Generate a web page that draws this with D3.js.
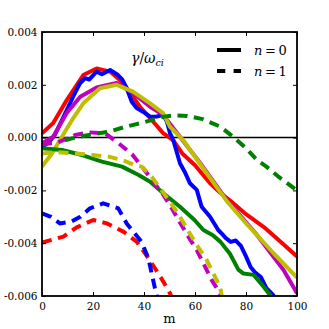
<!DOCTYPE html>
<html>
<head>
<meta charset="utf-8">
<script src="https://cdn.jsdelivr.net/npm/d3@7.9.0/dist/d3.min.js"></script>
<style>
  body { margin: 0; background: #fff; }
  svg { display: block; font-family: "DejaVu Serif", serif; }
  .tick text { font-size: 10.5px; fill: #000; font-family: "DejaVu Serif", serif; }
</style>
</head>
<body>
<svg width="329" height="329"></svg>
<script>
// growth rate gamma/omega_ci vs m, n=0 (solid) and n=1 (dashed)
const xTicks = [0, 20, 40, 60, 80, 100];
const yTicks = [-0.006, -0.004, -0.002, 0, 0.002, 0.004];

const redM = [0, 4.4, 9.7, 16.2, 21.4, 26.7, 31.8, 38.4, 42, 47.5, 51.4, 55, 60, 65.9, 70, 74, 80, 87, 93, 100];
const redV = [0.00016, 0.00055, 0.00142, 0.00237, 0.00262, 0.0025, 0.00207, 0.00117, 0.00078, 0.00017, -0.0001, -0.0006, -0.00105, -0.00173, -0.0021, -0.0024, -0.0029, -0.00339, -0.0039, -0.0045];

const blueM = [0, 2.5, 5, 7.5, 10, 12.2, 14.9, 16.9, 18.5, 21.4, 23.5, 26.7, 29.8, 31.5, 33.2, 35.2, 37.1, 39.6, 42.4, 45, 47.5, 49, 50.2, 51.5, 54.1, 56, 58, 60.7, 62.6, 65.9, 69.1, 70.6, 72, 74, 76, 78, 80, 81.8, 83.5, 85.8, 88, 91];
const blueV = [-0.00034, -0.0002, 0.0001, 0.0006, 0.0011, 0.00155, 0.00206, 0.00225, 0.0022, 0.0025, 0.0024, 0.00256, 0.00237, 0.0022, 0.00187, 0.00136, 0.00112, 0.00098, 0.00079, 0.0008, 0.00086, 0.0006, 0.00017, -0.0001, -0.00097, -0.0013, -0.00173, -0.00198, -0.00262, -0.003, -0.0035, -0.00365, -0.0038, -0.00395, -0.0039, -0.0041, -0.0045, -0.0049, -0.0051, -0.00528, -0.0057, -0.006];

const magM = [0, 4.4, 9.7, 15, 21.4, 29.3, 35.7, 42.4, 47.5, 49, 54.1, 62, 72.4, 84, 94.9, 100];
const magV = [-0.00022, 0.00003, 0.00093, 0.00155, 0.0019, 0.00207, 0.00169, 0.00117, 0.00086, 0.00067, 0.00003, -0.00096, -0.00236, -0.00365, -0.00504, -0.0059];

const yelM = [0, 3.9, 7.8, 11.8, 16.2, 22.7, 29.3, 35.7, 42.4, 47.5, 50.2, 55.4, 63.5, 72.4, 80.5, 91, 100];
const yelV = [-0.0011, -0.0006, 0.00003, 0.00067, 0.0013, 0.00187, 0.002, 0.00174, 0.0013, 0.00093, 0.00041, -0.0001, -0.0012, -0.0024, -0.0033, -0.0044, -0.0053];

const grnM = [0, 7.8, 15.7, 23.5, 31.4, 37.9, 42.4, 47.6, 54.1, 59.8, 63.3, 67, 70, 73.7, 77, 79, 83, 87, 89.7, 92];
const grnV = [-0.0004, -0.00047, -0.00066, -0.00091, -0.0011, -0.00142, -0.00167, -0.00211, -0.00262, -0.00312, -0.0035, -0.0037, -0.00395, -0.0044, -0.005, -0.00515, -0.0052, -0.00566, -0.006, -0.0063];

const redDashM = [0, 8.4, 13.6, 20.1, 25.4, 31.9, 37.1, 40.4, 44.3, 47.6, 50.2, 51.5];
const redDashV = [-0.00398, -0.00375, -0.0034, -0.00312, -0.00325, -0.00356, -0.00394, -0.00438, -0.00495, -0.00546, -0.0059, -0.0062];

const blueDashM = [0, 3.5, 7, 11.6, 15, 18.8, 24, 29.9, 33.2, 35.8, 39, 41.7, 43, 44.3, 45.5];
const blueDashV = [-0.00287, -0.003, -0.00325, -0.00318, -0.003, -0.00268, -0.00249, -0.00268, -0.00325, -0.00356, -0.00394, -0.00457, -0.00514, -0.00571, -0.0062];

const magDashM = [0, 5.8, 13.1, 18.3, 24.8, 30.1, 35.3, 39.7, 43.6, 47.6, 50.9, 54.1, 57.4, 60.7, 63.3, 66.5, 69.8, 70.8];
const magDashV = [-0.00025, -0.0002, 0.0001, 0.0002, 0.00016, -0.00022, -0.00063, -0.00116, -0.00167, -0.00217, -0.00268, -0.00322, -0.00375, -0.00426, -0.00476, -0.00539, -0.0059, -0.0062];

const yelDashM = [0, 6, 13.1, 19.6, 26.1, 31.4, 36.5, 39.1, 43, 46.3, 50.2, 54.1, 57.4, 60.7, 64.6, 67.2, 69.8, 71];
const yelDashV = [-0.0006, -0.00055, -0.0006, -0.00066, -0.00072, -0.00085, -0.00104, -0.0011, -0.00148, -0.00192, -0.00243, -0.003, -0.00354, -0.00407, -0.00464, -0.00514, -0.00565, -0.0062];

const grnDashM = [9, 11.8, 18.3, 26.1, 32.7, 39.2, 47.5, 52, 56.9, 63, 70, 75.3, 80, 84.3, 88, 93, 100];
const grnDashV = [-0.0001, -0.00003, 0.0001, 0.00022, 0.00041, 0.00056, 0.00079, 0.00084, 0.00082, 0.0007, 0.00041, 0.0, -0.0004, -0.00085, -0.0011, -0.0015, -0.002];

const series = [
  { m: redM, v: redV, color: '#ff0000', dash: false },
  { m: blueM, v: blueV, color: '#0000ff', dash: false },
  { m: magM, v: magV, color: '#bf00bf', dash: false },
  { m: yelM, v: yelV, color: '#bfbf00', dash: false },
  { m: grnM, v: grnV, color: '#008000', dash: false },
  { m: redDashM, v: redDashV, color: '#ff0000', dash: true },
  { m: blueDashM, v: blueDashV, color: '#0000ff', dash: true },
  { m: magDashM, v: magDashV, color: '#bf00bf', dash: true },
  { m: yelDashM, v: yelDashV, color: '#bfbf00', dash: true },
  { m: grnDashM, v: grnDashV, color: '#008000', dash: true },
];

const pLeft = 42, pRight = 297, pTop = 32, pBottom = 296;
const x = d3.scaleLinear().domain([0, 100]).range([pLeft, pRight]);
const y = d3.scaleLinear().domain([-0.006, 0.004]).range([pBottom, pTop]);

const svg = d3.select('svg');

svg.append('clipPath').attr('id', 'clip')
  .append('rect')
  .attr('x', pLeft).attr('y', pTop)
  .attr('width', pRight - pLeft).attr('height', pBottom - pTop);

// zero line
svg.append('line')
  .attr('x1', pLeft).attr('x2', pRight)
  .attr('y1', y(0)).attr('y2', y(0))
  .attr('stroke', '#000').attr('stroke-width', 1.5);

const line = d3.line().x((d) => x(d[0])).y((d) => y(d[1]));
const curves = svg.append('g').attr('clip-path', 'url(#clip)');
series.forEach((s) => {
  curves.append('path')
    .attr('d', line(s.m.map((m, i) => [m, s.v[i]])))
    .attr('fill', 'none')
    .attr('stroke', s.color)
    .attr('stroke-width', 4)
    .attr('stroke-linejoin', 'round')
    .attr('stroke-dasharray', s.dash ? '10,6.5' : null);
});

// axes, ticks pointing in
const fmtY = (d) => d3.format('.3f')(d).replace('\u2212', '-');
const axes = svg.append('g');
axes.append('g').attr('transform', `translate(0,${pBottom})`)
  .call(d3.axisBottom(x).tickValues(xTicks).tickSizeInner(-4).tickSizeOuter(0).tickPadding(7));
axes.append('g').attr('transform', `translate(0,${pTop})`)
  .call(d3.axisTop(x).tickValues(xTicks).tickSizeInner(-4).tickSizeOuter(0).tickFormat(''));
axes.append('g').attr('transform', `translate(${pLeft},0)`)
  .call(d3.axisLeft(y).tickValues(yTicks).tickSizeInner(-4).tickSizeOuter(0).tickPadding(4.5).tickFormat(fmtY));
axes.append('g').attr('transform', `translate(${pRight},0)`)
  .call(d3.axisRight(y).tickValues(yTicks).tickSizeInner(-4).tickSizeOuter(0).tickFormat(''));
axes.selectAll('g').attr('font-family', null).attr('font-size', null);
axes.selectAll('.domain').remove();
axes.selectAll('.tick line').attr('stroke', '#000');

svg.append('rect')
  .attr('x', pLeft).attr('y', pTop)
  .attr('width', pRight - pLeft).attr('height', pBottom - pTop)
  .attr('fill', 'none').attr('stroke', '#000').attr('stroke-width', 1.8);

svg.append('text')
  .attr('x', (pLeft + pRight) / 2).attr('y', 323)
  .attr('text-anchor', 'middle').attr('font-size', 13)
  .text('m');

// title
const title = svg.append('text').attr('x', 131).attr('y', 63).attr('font-size', 14);
title.append('tspan').attr('font-style', 'italic').text('γ');
title.append('tspan').text('/');
title.append('tspan').attr('font-style', 'italic').text('ω');
title.append('tspan').attr('font-style', 'italic').attr('font-size', 9.5).attr('dy', 3).text('ci');

// legend
const legend = [
  { label: '0', dash: false, yy: 50 },
  { label: '1', dash: true, yy: 71 },
];
legend.forEach((d) => {
  svg.append('line')
    .attr('x1', 217).attr('x2', 241)
    .attr('y1', d.yy).attr('y2', d.yy)
    .attr('stroke', '#000').attr('stroke-width', 4)
    .attr('stroke-dasharray', d.dash ? '8.3,8.3' : null);
  const t = svg.append('text').attr('x', 254).attr('y', d.yy + 5).attr('font-size', 13);
  t.append('tspan').attr('font-style', 'italic').text('n');
  t.append('tspan').text('\u2009=\u2009' + d.label);
});
</script>
</body>
</html>
